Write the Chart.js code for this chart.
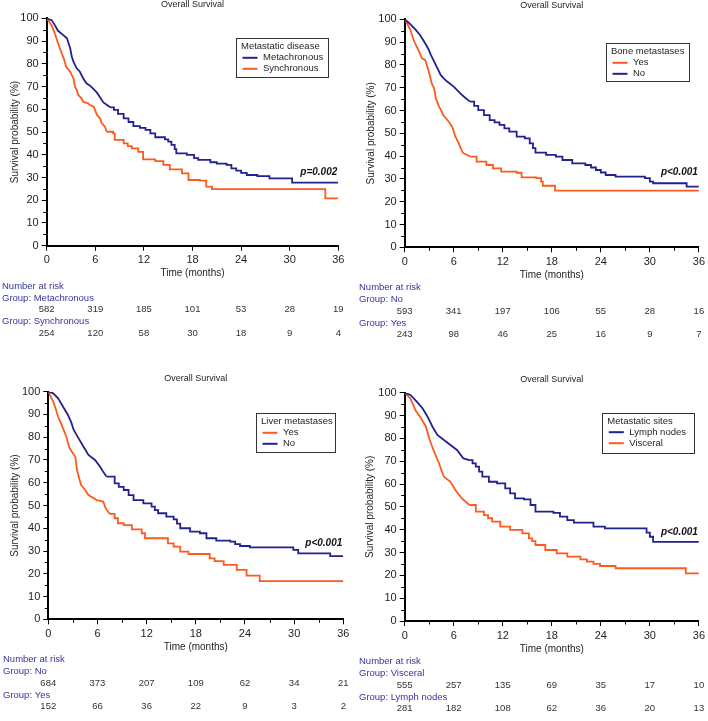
<!DOCTYPE html>
<html><head><meta charset="utf-8">
<script src="https://cdn.jsdelivr.net/npm/chart.js@4.4.1/dist/chart.umd.min.js"></script>
<style>
html,body{margin:0;padding:0;background:#fff;}
#wrap{position:relative;width:708px;height:721px;overflow:hidden;background:#fff;}
.p{position:absolute;}
canvas{display:block;}
</style></head><body><div id="wrap">
<div class="p" style="left:0;top:0"><canvas id="c1" width="354" height="360"></canvas></div>
<div class="p" style="left:354px;top:0"><canvas id="c2" width="354" height="360"></canvas></div>
<div class="p" style="left:0;top:360px"><canvas id="c3" width="354" height="361"></canvas></div>
<div class="p" style="left:354px;top:360px"><canvas id="c4" width="354" height="361"></canvas></div>
</div>
<script>
// ---------- DATA ----------
const riskMonths = [0, 6, 12, 18, 24, 30, 36];

// Panel 1: Metastatic disease
const metaT = [0,0.6,1.0,1.4,2.05,2.5,2.7,2.9,3.1,3.3,3.7,4.1,4.5,4.9,5.3,5.7,6.2,6.6,7.0,7.4,7.9,8.3,8.8,9.5,10.1,10.7,11.5,12.2,12.8,13.4,14.6,15.0,15.4,15.8,16.0,17.3,18.2,18.7,20.2,21.0,22.2,22.8,23.4,24.0,24.7,26.0,27.5,29.4,30.3,36];
const metaS = [100,99.2,97,94.5,92.6,91.2,89,86.8,83.1,80.9,78,76.5,73.6,71.4,70.5,69.2,67.3,65.2,63.0,62.0,60.8,59.7,58.0,56.0,54.4,52.6,51.8,50.9,49.4,47.7,46.8,45.8,44.3,42.5,40.6,39.9,38.5,37.7,36.7,36.1,35.5,34.0,33.0,32.0,31.1,30.6,29.6,29.6,27.7,27.7];
const syncT = [0,0.6,1.0,1.4,1.85,2.1,2.4,2.9,3.1,3.3,3.5,3.7,3.9,4.3,4.5,5.1,5.35,5.8,5.96,6.2,6.6,6.8,7.2,7.4,8.2,8.4,9.5,10.0,10.5,11.3,11.9,13.4,14.4,15.2,16.7,17.5,18.9,19.7,20.4,34.4,36];
const syncS = [100,97,93.4,89,84.6,82.4,78.7,76.5,75,73.6,69.9,68.5,66.3,64.8,63.3,62.6,61.9,61.1,59.7,57.5,56,53.8,52.3,50.1,49.4,46.5,45.0,43.8,42.8,41.3,38.0,37.2,35.5,33.6,31.8,28.9,28.6,26.0,24.9,20.8,20.8];
const metaRisk = [582, 319, 185, 101, 53, 28, 19];
const syncRisk = [254, 120, 58, 30, 18, 9, 4];

// Panel 2: Bone metastases
const boneNoT = [0,0.5,1.3,1.9,2.5,2.9,3.2,3.5,3.8,4.1,4.4,4.8,5.2,6.0,6.8,7.4,8.0,8.5,9.0,9.7,10.4,11.0,11.6,12.2,12.8,13.7,14.7,15.3,15.7,16.0,17.3,18.5,19.3,20.5,22.1,22.8,23.4,24.0,24.6,25.8,29.4,30.0,30.4,34.5,36];
const boneNoS = [100,98.5,95.6,93,89.5,87,84.4,82.2,80,77.8,75.6,74,72.7,70.5,67.5,65.6,63.9,62,60.2,58,55.8,54.8,53.7,52.2,50.7,48.5,47.8,45.6,43.5,41.5,40.5,39.8,38.3,36.8,36.1,35.0,33.9,32.8,31.7,31.0,30.3,28.8,28.1,26.6,26.6];
const boneYesT = [0,0.4,0.7,1.1,1.4,1.7,2.1,2.5,2.9,3.1,3.3,3.6,3.8,4.2,4.5,4.7,5.4,5.8,6.0,6.2,6.5,6.7,6.9,7.1,8.0,8.8,10.0,10.8,11.8,13.7,14.3,16.1,16.7,16.9,18.4,36];
const boneYesS = [100,97.5,95.3,90.9,88.5,86.5,82.9,82.2,77.8,75,71.9,69.7,65.4,61.7,59.8,58.0,55.1,52.9,50.8,48.5,46.5,44.9,43.0,41.5,39.8,37.6,36.1,34.6,33.2,32.7,30.7,30.3,28.8,27.0,24.9,24.9];
const boneNoRisk = [593, 341, 197, 106, 55, 28, 16];
const boneYesRisk = [243, 98, 46, 25, 16, 9, 7];

// Panel 3: Liver metastases
const liverNoT = [0,0.6,1.2,1.8,2.4,2.8,3.1,3.7,4.3,4.9,5.7,6.3,6.7,7.1,8.1,8.6,9.2,9.8,10.4,11.6,12.6,13.0,13.4,14.4,15.3,15.7,16.1,17.3,18.5,19.3,20.5,22.2,22.8,23.4,24.6,29.9,30.5,34.4,36];
const liverNoS = [100,99.3,97.1,93.4,89.8,86.5,83.2,79.5,75.8,72.2,70.0,67.1,64.8,62.7,59.7,58.2,56.8,54.6,52.4,50.9,49.5,48.0,46.6,45.1,43.9,42.0,40.0,38.5,37.8,35.6,34.6,34.1,33.0,32.2,31.6,30.5,29.0,27.8,27.8];
const liverYesT = [0,0.6,0.9,1.2,1.5,1.8,2.2,2.6,3.3,3.5,3.8,4.0,4.5,4.9,5.9,6.7,7.0,7.5,8.1,8.5,9.2,10.2,11.4,11.8,14.6,15.3,16.1,17.1,19.7,20.3,21.4,23.0,24.2,25.8,36];
const liverYesS = [100,95.6,92.5,89.0,86.5,83.9,80.2,75.1,71.4,65.6,61.5,59.0,56.8,54.6,52.4,51.7,48.8,46.3,44.4,42.2,41.4,39.5,37.8,35.6,33.4,31.9,29.7,28.7,26.8,25.6,23.9,21.7,19.2,16.8,16.8];
const liverNoRisk = [684, 373, 207, 109, 62, 34, 21];
const liverYesRisk = [152, 66, 36, 22, 9, 3, 2];

// Panel 4: Metastatic sites
const lymphT = [0,0.7,1.5,2.2,2.8,3.4,4.0,4.8,5.6,6.4,6.8,7.2,7.9,8.3,8.7,9.1,9.5,10.3,11.3,12.3,12.9,13.5,14.6,15.4,16.0,18.2,19.0,19.9,20.7,23.1,24.5,29.6,30.0,30.4,36];
const lymphS = [100,99,96,93.1,89.5,85.1,81.5,79.3,77.1,74.9,73.0,71.2,70.5,69.0,67.6,65.4,63.2,61.0,60.3,58.1,55.9,53.7,53.3,50.8,47.9,47.4,45.7,44.2,43.1,41.3,40.6,38.7,36.9,34.7,34.7];
const viscT = [0,0.7,1.0,1.3,2.0,2.6,3.0,3.3,3.6,4.2,4.5,4.8,5.6,6.2,6.6,7.0,7.9,8.7,9.7,10.2,10.7,11.7,12.9,14.4,15.2,15.6,16.0,17.2,18.6,19.9,21.5,22.3,23.1,23.9,25.8,34.4,36];
const viscS = [100,97.5,95,92.4,88.8,85.1,80.0,77.0,74.2,69.1,66.0,63.2,61.0,57.4,55.5,53.7,50.8,47.9,46.4,45.0,43.5,41.3,39.9,38.4,36.2,35.0,33.3,31.1,29.6,28.2,27.0,26.0,25.0,24.1,23.1,20.9,20.9];
const viscRisk = [555, 257, 135, 69, 35, 17, 10];
const lymphRisk = [281, 182, 108, 62, 36, 20, 13];

// ---------- STYLE / LAYOUT ----------
const FONT = '"Liberation Sans", Arial, Helvetica, sans-serif';
const BLUE = '#22228e';
const ORANGE = '#ff5a1e';
const RISKBLUE = '#35359e';
const TXT = '#1e1e1e';
const XH = 20;
const SMOOTH_UNTIL = 8; // dense early events drawn as a continuous line, later ones as visible steps

const panels = [
  { id:'c1', W:354, H:360, ca:{l:46.7, r:338.3, t:18.3, b:245.7}, yTitleX:15, minorX:false, riskX:2,
    legendTitle:'Metastatic disease', box:{x:236, y:38.3, w:92, h:39},
    legend:[['Metachronous', BLUE], ['Synchronous', ORANGE]],
    series:[['Metachronous', BLUE, metaT, metaS], ['Synchronous', ORANGE, syncT, syncS]],
    pText:'p=0.002', pY:32.1,
    risk:[['Group: Metachronous', metaRisk], ['Group: Synchronous', syncRisk]] },
  { id:'c2', W:354, H:360, ca:{l:50.7, r:347.7, t:19.3, b:247.3}, yTitleX:17, minorX:true, riskX:5,
    legendTitle:'Bone metastases', box:{x:252, y:43.3, w:83, h:38.4},
    legend:[['Yes', ORANGE], ['No', BLUE]],
    series:[['No', BLUE, boneNoT, boneNoS], ['Yes', ORANGE, boneYesT, boneYesS]],
    pText:'p<0.001', pY:32.7,
    risk:[['Group: No', boneNoRisk], ['Group: Yes', boneYesRisk]] },
  { id:'c3', W:354, H:361, ca:{l:48.3, r:343.3, t:31.7, b:259.3}, yTitleX:15, minorX:true, riskX:3,
    legendTitle:'Liver metastases', box:{x:256, y:53.3, w:79, h:39},
    legend:[['Yes', ORANGE], ['No', BLUE]],
    series:[['No', BLUE, liverNoT, liverNoS], ['Yes', ORANGE, liverYesT, liverYesS]],
    pText:'p<0.001', pY:33.6,
    risk:[['Group: No', liverNoRisk], ['Group: Yes', liverYesRisk]] },
  { id:'c4', W:354, H:361, ca:{l:50.7, r:345.7, t:32.7, b:261}, yTitleX:16, minorX:true, riskX:5,
    legendTitle:'Metastatic sites', box:{x:248.3, y:52.7, w:91.7, h:40},
    legend:[['Lymph nodes', BLUE], ['Visceral', ORANGE]],
    series:[['Lymph nodes', BLUE, lymphT, lymphS], ['Visceral', ORANGE, viscT, viscS]],
    pText:'p<0.001', pY:38.7,
    risk:[['Group: Visceral', viscRisk], ['Group: Lymph nodes', lymphRisk]] }
];

function pts(t, s, from, to) {
  const out = [];
  t.forEach((x, i) => { if (x >= from && x <= to) out.push({ x: x, y: s[i] }); });
  return out;
}

function decor(p) {
  return {
    id: 'decor_' + p.id,
    afterDraw(chart) {
      const ctx = chart.ctx, ca = chart.chartArea, xs = chart.scales.x, ys = chart.scales.y;
      ctx.save();
      // minor ticks
      ctx.strokeStyle = '#000'; ctx.lineWidth = 1;
      for (let v = 5; v < 100; v += 10) {
        const y = Math.round(ys.getPixelForValue(v)) + 0.5;
        ctx.beginPath(); ctx.moveTo(ca.left - 3.5, y); ctx.lineTo(ca.left, y); ctx.stroke();
      }
      if (p.minorX) {
        for (let m = 3; m < 36; m += 6) {
          const x = Math.round(xs.getPixelForValue(m)) + 0.5;
          ctx.beginPath(); ctx.moveTo(x, ca.bottom); ctx.lineTo(x, ca.bottom + 3.5); ctx.stroke();
        }
      }
      const cx = (ca.left + ca.right) / 2;
      ctx.fillStyle = TXT; ctx.textAlign = 'center'; ctx.textBaseline = 'middle';
      ctx.font = '9px ' + FONT;
      ctx.fillText('Overall Survival', cx, ca.top - 13.5);
      ctx.font = '10px ' + FONT;
      ctx.fillText('Time (months)', cx, ca.bottom + 28);
      ctx.save();
      ctx.translate(p.yTitleX, (ca.top + ca.bottom) / 2);
      ctx.rotate(-Math.PI / 2);
      ctx.font = '10px ' + FONT;
      ctx.fillText('Survival probability (%)', 0, 0);
      ctx.restore();
      // legend box
      const b = p.box;
      ctx.fillStyle = '#fff';
      ctx.fillRect(b.x, b.y, b.w, b.h);
      ctx.strokeStyle = '#333'; ctx.lineWidth = 1;
      ctx.strokeRect(Math.round(b.x) + 0.5, Math.round(b.y) + 0.5, Math.round(b.w), Math.round(b.h));
      ctx.textAlign = 'left'; ctx.fillStyle = TXT; ctx.font = '9.5px ' + FONT;
      ctx.fillText(p.legendTitle, b.x + 5, b.y + 8.5);
      p.legend.forEach((it, i) => {
        const y = b.y + 19.5 + i * 11;
        ctx.strokeStyle = it[1]; ctx.lineWidth = 2;
        ctx.beginPath(); ctx.moveTo(b.x + 6.5, y); ctx.lineTo(b.x + 21.5, y); ctx.stroke();
        ctx.fillStyle = TXT;
        ctx.fillText(it[0], b.x + 27, y);
      });
      // p value
      ctx.font = 'italic bold 10px ' + FONT; ctx.textAlign = 'right'; ctx.fillStyle = '#111';
      ctx.fillText(p.pText, xs.getPixelForValue(36) - 1, ys.getPixelForValue(p.pY));
      // risk table
      ctx.font = '9.5px ' + FONT; ctx.textAlign = 'left'; ctx.fillStyle = RISKBLUE;
      ctx.fillText('Number at risk', p.riskX, ca.bottom + 40.5);
      p.risk.forEach((r, i) => {
        const yl = ca.bottom + 52.5 + i * 23.5;
        ctx.textAlign = 'left'; ctx.fillStyle = RISKBLUE;
        ctx.fillText(r[0], p.riskX, yl);
        ctx.textAlign = 'center'; ctx.fillStyle = '#333';
        r[1].forEach((n, k) => ctx.fillText(String(n), xs.getPixelForValue(riskMonths[k]), yl + 11.5));
      });
      ctx.restore();
    }
  };
}

panels.forEach(p => {
  const axisCommon = {
    grid: { display: true, drawOnChartArea: false, drawTicks: true, tickLength: 5, tickColor: '#000', tickWidth: 1 },
    border: { display: true, color: '#000', width: 2 }
  };
  const datasets = [];
  p.series.forEach(s => {
    const base = { label: s[0], borderColor: s[1], backgroundColor: s[1], borderWidth: 1.8, pointRadius: 0, fill: false, tension: 0 };
    datasets.push(Object.assign({}, base, { data: pts(s[2], s[3], 0, SMOOTH_UNTIL), stepped: false }));
    // last point at or before SMOOTH_UNTIL starts the stepped part
    let startT = 0;
    s[2].forEach(x => { if (x <= SMOOTH_UNTIL) startT = x; });
    datasets.push(Object.assign({}, base, { data: pts(s[2], s[3], startT, 36), stepped: 'before' }));
  });
  new Chart(document.getElementById(p.id), {
    type: 'line',
    data: { datasets: datasets },
    options: {
      responsive: false, animation: false, devicePixelRatio: 1,
      layout: { padding: { left: 0, top: p.ca.t, right: p.W - p.ca.r, bottom: p.H - p.ca.b - XH } },
      plugins: { legend: { display: false }, tooltip: { enabled: false }, title: { display: false } },
      scales: {
        x: Object.assign({
          type: 'linear', min: 0, max: 36,
          afterFit: s => { s.height = XH; },
          ticks: { stepSize: 6, autoSkip: false, maxRotation: 0, padding: 3, color: TXT, font: { family: FONT, size: 11 } }
        }, axisCommon),
        y: Object.assign({
          type: 'linear', min: 0, max: 100,
          afterFit: s => { s.width = p.ca.l; },
          ticks: { stepSize: 10, autoSkip: false, padding: 3, color: TXT, font: { family: FONT, size: 11 } }
        }, axisCommon)
      }
    },
    plugins: [decor(p)]
  });
});
</script>
</body></html>
